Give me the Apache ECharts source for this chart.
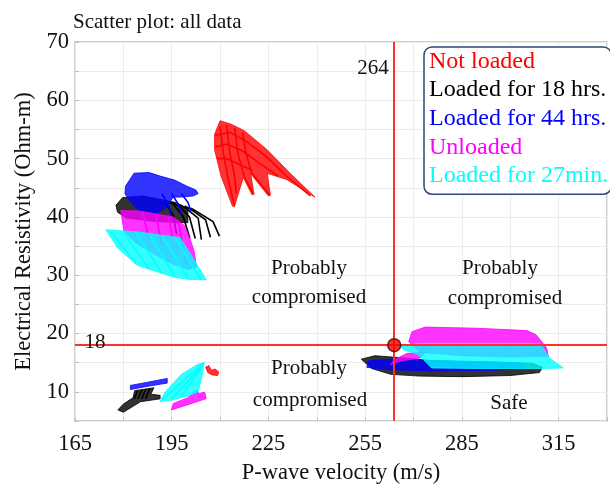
<!DOCTYPE html>
<html><head><meta charset="utf-8">
<script src="https://cdn.jsdelivr.net/npm/echarts/dist/echarts.min.js"></script>
<style>html,body{margin:0;padding:0;background:#fff}#c{width:610px;height:490px}</style>
</head><body><div id="c"></div>
<script>
// ---- data ----
const seriesNames = ['Not loaded', 'Loaded for 18 hrs.', 'Loaded for 44 hrs.', 'Unloaded', 'Loaded for 27min.'];
const thresholdX = 264;   // P-wave velocity threshold
const thresholdY = 18;    // resistivity threshold
const thresholdPoint = [[264, 18]];
const xTickValues = [165, 195, 225, 255, 285, 315];
const yTickValues = [10, 20, 30, 40, 50, 60, 70];

// Not loaded (red)
const notLoadedAreas = [
  [[210.0,56.5],[213.4,55.9],[217.5,54.8],[224.6,51.5],[231.7,47.5],[239.4,43.4],[230.7,46.4],[224.6,47.5],[225.6,43.7],[225.0,43.6],[219.5,47.4],[220.5,43.9],[219.9,43.8],[217.2,46.8],[214.4,41.7],[213.8,41.9],[210.3,47.0],[208.3,51.5],[208.3,54.2]],
  [[205.5,14.2],[206.5,14.5],[207.3,13.7],[208.5,13.9],[209.6,13.4],[209.2,12.8],[207.5,12.9],[206.2,13.3]]
];
const notLoadedStrands = [
  [[208.5,54.0],[213.0,54.5],[218.0,53.0],[224.0,50.5],[231.0,46.8],[238.0,43.6]],
  [[208.5,52.0],[212.0,52.5],[217.0,51.3],[222.0,49.3],[228.0,47.0]],
  [[209.0,50.0],[212.0,50.0],[216.0,49.0],[220.0,48.0]],
  [[210.0,55.5],[211.0,51.0],[212.5,46.5],[214.4,42.0]],
  [[212.0,55.8],[213.0,51.0],[214.5,47.0],[215.0,44.0]],
  [[214.5,55.3],[215.5,51.0],[217.5,46.8],[220.3,44.0]],
  [[217.0,54.5],[218.0,51.0],[219.8,47.5],[225.3,43.8]]
];

// Loaded for 18 hrs. (black)
const loaded18Areas = [
  [[177.7,42.0],[179.7,43.3],[186.0,43.6],[196.0,42.5],[200.0,41.5],[200.0,39.0],[190.0,39.2],[181.0,39.8],[178.2,40.8]],
  [[178.3,6.9],[180.0,7.9],[183.0,9.0],[183.5,10.2],[189.5,10.7],[188.5,9.6],[191.4,9.4],[191.4,8.8],[185.3,8.3],[180.0,6.5]],
  [[253.8,15.6],[258.0,16.2],[265.0,15.9],[275.0,15.4],[295.0,15.1],[307.0,14.9],[310.0,14.2],[309.0,13.3],[300.0,12.8],[285.0,12.6],[272.0,12.7],[263.0,13.0],[257.0,14.0]]
];
const loaded18Strands = [
  [[191.0,42.6],[193.5,42.0],[195.5,40.3],[196.5,37.0]],
  [[193.0,42.7],[195.5,42.2],[198.6,40.0],[200.6,36.4]],
  [[195.0,42.5],[197.5,41.8],[200.5,40.0],[202.3,36.3]],
  [[197.0,42.2],[199.6,41.4],[203.2,39.8],[204.2,36.1]],
  [[199.0,41.9],[201.5,41.1],[205.5,39.5],[207.0,36.5]],
  [[201.0,41.5],[203.7,40.6],[207.8,39.2],[209.8,36.7]],
  [[183.3,8.8],[184.5,10.3]],
  [[184.5,8.8],[185.8,10.4]],
  [[185.7,8.8],[187.0,10.5]],
  [[186.9,8.8],[188.2,10.6]]
];

// Loaded for 44 hrs. (blue)
const loaded44Areas = [
  [[180.7,45.3],[183.3,47.5],[188.0,47.6],[191.4,47.0],[196.0,46.3],[199.6,45.3],[202.5,44.6],[203.2,44.0],[201.6,43.6],[198.0,43.4],[195.5,43.4],[193.0,41.5],[190.4,40.6],[185.0,41.0],[181.7,42.9],[180.5,44.0]],
  [[182.2,10.4],[182.2,11.1],[188.0,11.7],[193.6,12.3],[193.6,11.5],[188.0,11.0]],
  [[255.5,14.2],[256.0,15.3],[263.0,15.6],[275.0,15.3],[295.0,15.1],[304.0,14.9],[305.0,14.1],[295.0,13.7],[275.0,13.6],[262.0,13.8]]
];
const loaded44Strands = [
  [[192.0,44.0],[194.0,42.0],[195.0,40.0]],
  [[195.0,44.0],[197.0,42.2],[198.0,40.5]],
  [[198.0,44.0],[200.0,42.5],[201.0,41.0]]
];

// Unloaded (magenta)
const unloadedAreas = [
  [[179.2,41.1],[185.0,41.0],[195.5,40.0],[199.0,38.5],[200.6,36.4],[202.0,34.0],[202.7,31.4],[200.0,31.0],[195.0,32.0],[190.0,33.5],[184.0,35.5],[180.2,37.5]],
  [[194.9,6.9],[195.5,8.0],[200.0,9.0],[202.6,10.3],[203.5,9.7],[205.2,9.95],[205.7,8.85],[200.0,7.8]],
  [[268.5,18.6],[269.5,20.3],[273.6,21.1],[290.0,20.9],[305.2,20.5],[308.0,19.8],[311.3,17.5],[311.8,16.1],[300.0,16.0],[285.0,16.2],[272.0,16.8]],
  [[262.9,14.7],[264.0,15.5],[268.0,16.6],[273.6,16.8],[272.0,15.8],[266.0,15.3]]
];
const unloadedStrands = [
  [[186.0,40.8],[188.0,36.0]],
  [[190.0,40.5],[192.0,35.0]],
  [[194.0,40.2],[196.0,34.0]],
  [[197.0,39.3],[199.5,32.0]]
];

// Loaded for 27min. (cyan)
const loaded27Areas = [
  [[174.6,37.8],[185.0,37.4],[197.6,36.4],[201.0,33.5],[205.7,29.2],[200.0,29.3],[195.5,29.7],[184.3,31.7],[178.2,34.7]],
  [[191.4,8.3],[193.0,10.0],[198.0,13.0],[203.0,14.7],[205.1,15.0],[204.5,13.0],[203.2,10.0],[200.0,9.3],[195.0,8.6]],
  [[265.9,17.8],[271.5,18.3],[290.0,18.3],[309.3,18.3],[312.2,15.8],[316.4,14.1],[310.0,14.0],[290.0,14.0],[275.6,14.1],[271.5,16.4],[267.0,17.2]]
];
const loaded27Strands = [
  [[176.0,37.5],[184.0,32.0]],
  [[180.0,37.4],[188.0,31.0]],
  [[184.0,37.2],[192.0,30.3]],
  [[188.0,37.0],[196.0,29.8]],
  [[192.0,36.8],[200.0,29.5]],
  [[196.0,36.5],[204.0,29.3]],
  [[192.0,8.6],[205.0,15.0]],
  [[195.0,8.8],[204.5,14.5]],
  [[198.0,9.2],[204.0,14.0]]
];

// ---- chart ----
const colors = ['#ff0000', '#000000', '#0000ff', '#ff00ff', '#00ffff'];
const groups = [
  [notLoadedAreas, notLoadedStrands],
  [loaded18Areas, loaded18Strands],
  [loaded44Areas, loaded44Strands],
  [unloadedAreas, unloadedStrands],
  [loaded27Areas, loaded27Strands]
];
const FONT = 'Liberation Serif';

const series = [];
groups.forEach((g, gi) => {
  const areas = g[0], strands = g[1], col = colors[gi];
  series.push({
    type: 'custom', name: seriesNames[gi], coordinateSystem: 'cartesian2d', silent: true,
    data: areas.map((p, i) => [p[0][0], p[0][1], i]),
    encode: { x: 0, y: 1 },
    renderItem: (params, api) => ({
      type: 'polygon',
      shape: { points: areas[params.dataIndex].map(pt => api.coord(pt)) },
      style: { fill: col, opacity: 0.8, stroke: col, lineWidth: 1 }
    }),
    z: 2 + gi
  });
  series.push({
    type: 'lines', name: seriesNames[gi], coordinateSystem: 'cartesian2d', polyline: true, silent: true,
    data: strands.map(s => ({ coords: s })),
    lineStyle: { color: col, width: 1.6, opacity: 1 },
    z: 2 + gi
  });
});
series.push({
  type: 'scatter', name: 'threshold', data: thresholdPoint, symbolSize: 13, silent: true,
  itemStyle: { color: '#ee0000', borderColor: '#5a0000', borderWidth: 1.5 }, z: 20,
  markLine: {
    silent: true, symbol: 'none', label: { show: false },
    lineStyle: { color: '#ff3030', width: 2, type: 'solid' },
    data: [{ xAxis: thresholdX }, { yAxis: thresholdY }], z: 15
  }
});

const txt = (text, x, y, align) => ({
  type: 'text', x, y, silent: true, z: 50,
  style: { text, fill: '#111', font: '21px "' + FONT + '"', textAlign: align || 'center', textVerticalAlign: 'middle' }
});

const chart = echarts.init(document.getElementById('c'), null, { renderer: 'canvas' });
chart.setOption({
  animation: false,
  backgroundColor: '#fff',
  title: { text: 'Scatter plot: all data', left: 68, top: 7,
    textStyle: { fontFamily: FONT, fontSize: 21, fontWeight: 'normal', color: '#111' } },
  grid: { left: 75, top: 42, width: 539, height: 389, show: true, borderColor: '#cfcfcf', borderWidth: 2, backgroundColor: '#fff' },
  legend: {
    orient: 'vertical', left: 424, top: 47, icon: 'none', itemWidth: 0, itemHeight: 26, itemGap: 2.7,
    padding: [1.4, 3, 5, 0], backgroundColor: '#fff', borderColor: '#2d4a78', borderWidth: 1.5, borderRadius: 8,
    selectedMode: false, z: 30,
    textStyle: { fontFamily: FONT, fontSize: 24, lineHeight: 26 },
    data: seriesNames.map((n, i) => ({ name: n, textStyle: { color: colors[i] } }))
  },
  xAxis: {
    type: 'value', min: 165, max: 330, interval: 15,
    name: 'P-wave velocity (m/s)', nameLocation: 'middle', nameGap: 41,
    nameTextStyle: { fontFamily: FONT, fontSize: 22.5, color: '#111' },
    axisLine: { show: false },
    axisTick: { show: true, inside: true, length: 4, lineStyle: { color: '#c0c0c0' } },
    splitLine: { show: true, lineStyle: { color: '#ececec', width: 1 } },
    axisLabel: { fontFamily: FONT, fontSize: 22.5, color: '#111', margin: 12,
      formatter: v => xTickValues.includes(v) ? String(v) : '' }
  },
  yAxis: {
    type: 'value', min: 5, max: 70, interval: 5,
    name: 'Electrical Resistivity (Ohm-m)', nameLocation: 'middle', nameGap: 38,
    nameTextStyle: { fontFamily: FONT, fontSize: 22.5, color: '#111' },
    axisLine: { show: false },
    axisTick: { show: true, inside: true, length: 4, lineStyle: { color: '#c0c0c0' } },
    splitLine: { show: true, lineStyle: { color: '#ececec', width: 1 } },
    axisLabel: { fontFamily: FONT, fontSize: 22.5, color: '#111', margin: 6,
      formatter: v => yTickValues.includes(v) ? String(v) : '' }
  },
  graphic: [
    txt('264', 373, 68),
    txt('18', 95, 342),
    txt('Probably', 309, 268), txt('compromised', 309, 297),
    txt('Probably', 500, 268), txt('compromised', 505, 298),
    txt('Probably', 309, 368), txt('compromised', 310, 400),
    txt('Safe', 509, 403)
  ],
  series
});
</script></body></html>
